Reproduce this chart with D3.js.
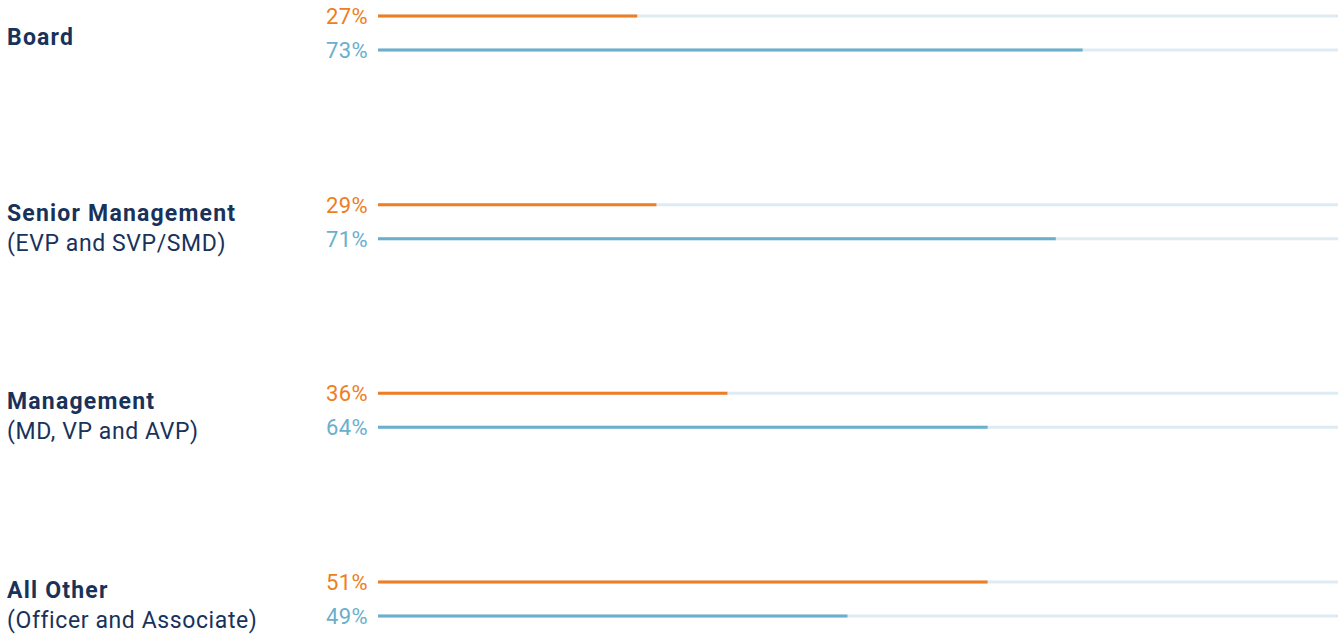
<!DOCTYPE html>
<html>
<head>
<meta charset="utf-8">
<script src="https://cdn.jsdelivr.net/npm/d3@7"></script>
<style>
  html, body { margin: 0; padding: 0; background: #ffffff; }
  svg { display: block; }
</style>
</head>
<body>
<svg id="chart" width="1340" height="637"></svg>
<script>
// ---- data ----
const categories = ["Board", "Senior Management", "Management", "All Other"];
const subtitles  = ["", "(EVP and SVP/SMD)", "(MD, VP and AVP)", "(Officer and Associate)"];
const series     = ["Women", "Men"];
const womenLabels = [27, 29, 36, 51];   // printed percentages
const menLabels   = [73, 71, 64, 49];
// bar lengths as drawn in the picture (percent of the full track)
const womenBars = [27, 29, 36.4, 63.5];
const menBars   = [73.4, 70.6, 63.5, 48.9];

// ---- layout ----
const svg = d3.select("#chart");
const x0 = 378, x1 = 1338;
const x = d3.scaleLinear().domain([0, 100]).range([x0, x1]);
const y = d3.scalePoint().domain(categories).range([16, 582]);
const rowGap = 34;

const colors = { Women: "#EF7D22", Men: "#6AAFCB", track: "#DFEBF3", title: "#19325A" };
const font = "Roboto, 'Liberation Sans', sans-serif";

const rows = [];
categories.forEach((c, i) => {
  rows.push({ cat: c, s: "Women", label: womenLabels[i], bar: womenBars[i], y: y(c) });
  rows.push({ cat: c, s: "Men", label: menLabels[i], bar: menBars[i], y: y(c) + rowGap });
});

// tracks
svg.append("g").selectAll("line").data(rows).join("line")
  .attr("x1", x(0)).attr("x2", x(100))
  .attr("y1", d => d.y).attr("y2", d => d.y)
  .attr("stroke", colors.track).attr("stroke-width", 3);

// bars
svg.append("g").selectAll("line").data(rows).join("line")
  .attr("x1", x(0)).attr("x2", d => x(d.bar))
  .attr("y1", d => d.y).attr("y2", d => d.y)
  .attr("stroke", d => colors[d.s]).attr("stroke-width", 3);

// percent labels
svg.append("g").selectAll("text").data(rows).join("text")
  .attr("x", x0 - 10).attr("y", d => d.y + 8)
  .attr("text-anchor", "end")
  .attr("font-family", font).attr("font-size", 22)
  .attr("letter-spacing", 0.4)
  .attr("fill", d => colors[d.s])
  .text(d => d.label + "%");

// category labels
const lab = svg.append("g").selectAll("text").data(categories).join("text")
  .attr("x", 7)
  .attr("y", (c, i) => {
    const mid = y(c) + rowGap / 2;
    return subtitles[i] ? mid - 1 : mid + 12;
  })
  .attr("font-family", font).attr("font-size", 23)
  .attr("fill", colors.title);
lab.append("tspan").attr("font-weight", 700).attr("letter-spacing", 1.2).text(c => c);
lab.append("tspan")
  .attr("x", 7).attr("dy", 30)
  .attr("font-weight", 400)
  .attr("letter-spacing", 0.6)
  .text((c, i) => subtitles[i]);
</script>
</body>
</html>
